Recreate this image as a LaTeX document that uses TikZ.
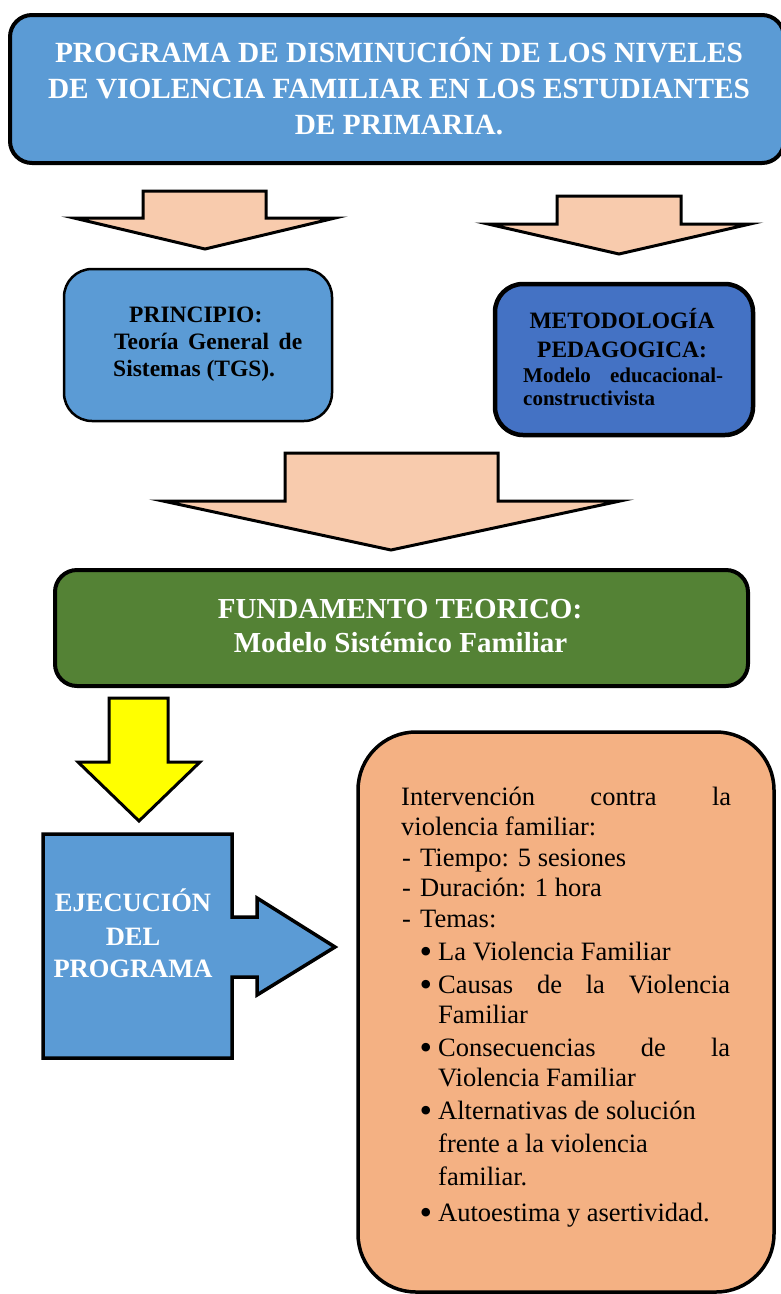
\documentclass[tikz,border=0pt]{standalone}
\usepackage{fontspec}
\setmainfont{Liberation Serif}
\definecolor{blueA}{HTML}{5B9BD5}
\definecolor{blueB}{HTML}{4472C4}
\definecolor{peach}{HTML}{F8CBAD}
\definecolor{greenF}{HTML}{548235}
\definecolor{orangeB}{HTML}{F4B183}
\definecolor{yellowA}{HTML}{FFFF00}
\newcommand\myfs[1]{\fontsize{#1}{#1}\selectfont}
\newcommand\dashit{\makebox[18pt][l]{-}}
\newcommand\bul{\makebox[17pt][l]{\hspace{-1.5pt}\raisebox{-3.5pt}[0pt][0pt]{\scalebox{1.35}{\textbullet}}}}
\begin{document}
\begin{tikzpicture}[x=1pt,y=-1pt,
  panel/.style={draw=black, inner sep=0},
  blockarrow/.style={draw=black, line width=3pt, fill=peach},
  ln/.style={inner sep=0, anchor=base west},
  lc/.style={inner sep=0, anchor=base},
  titlefont/.style={font=\myfs{29.3}\bfseries, text=white},
  boxfont/.style={font=\myfs{23.5}\bfseries, text=black},
  smallbold/.style={font=\myfs{21}\bfseries, text=black},
  fundfont/.style={font=\myfs{29}\bfseries, text=white},
  ejefont/.style={font=\myfs{26.5}\bfseries, text=white},
  bodyfont/.style={font=\myfs{26.5}, text=black}]
\useasboundingbox (0,0) rectangle (780,1294);

% ---- title
\node[panel, fill=blueA, line width=4pt, rounded corners=22pt,
      minimum width=774pt, minimum height=148pt] (title) at (397,89) {};
\node[lc, titlefont] (t1) at (399,62.3) {PROGRAMA DE DISMINUCIÓN DE LOS NIVELES};
\node[lc, titlefont] (t2) at (399,98.3) {DE VIOLENCIA FAMILIAR EN LOS ESTUDIANTES};
\node[lc, titlefont] (t3) at (399,134.6) {DE PRIMARIA.};

% ---- two small arrows
\draw[blockarrow] (143,191) -- (266,191) -- (266,218) -- (335,218) -- (205,249)
   -- (74,218) -- (143,218) -- cycle;
\draw[blockarrow] (557,196) -- (681,196) -- (681,224) -- (750,224) -- (619,254)
   -- (488,224) -- (557,224) -- cycle;

% ---- principio
\node[panel, fill=blueA, line width=2.5pt, rounded corners=28pt,
      minimum width=268pt, minimum height=152pt] (princ) at (198,345) {};
\node[ln, boxfont] (p1) at (129,322) {PRINCIPIO:};
\node[ln, boxfont] (p2) at (114,349) {\makebox[188pt][s]{Teoría General de}};
\node[ln, boxfont] (p3) at (113,376) {Sistemas (TGS).};

% ---- metodologia
\node[panel, fill=blueB, line width=4.5pt, rounded corners=28pt,
      minimum width=258pt, minimum height=151pt] (metod) at (624,359.5) {};
\node[lc, boxfont] (m1) at (622,328) {METODOLOGÍA};
\node[lc, boxfont] (m2) at (622,357) {PEDAGOGICA:};
\node[ln, smallbold] (m3) at (523,382) {\makebox[200pt][s]{Modelo educacional-}};
\node[ln, smallbold] (m4) at (523,405) {constructivista};

% ---- big arrow
\draw[blockarrow] (285,453) -- (498,453) -- (498,501) -- (620,501) -- (391,550)
   -- (163,501) -- (285,501) -- cycle;

% ---- fundamento
\node[panel, fill=greenF, line width=4pt, rounded corners=22pt,
      minimum width=693pt, minimum height=116pt] (fund) at (401.5,628) {};
\node[lc, fundfont] (f1) at (400,618) {FUNDAMENTO TEORICO:};
\node[lc, fundfont] (f2) at (400.5,652) {Modelo Sistémico Familiar};

% ---- yellow arrow
\draw[draw=black, line width=3pt, fill=yellowA] (109,698) -- (168,698) -- (168,762)
   -- (200,762) -- (139,821) -- (78,762) -- (109,762) -- cycle;

% ---- ejecucion with arrow
\draw[draw=black, line width=3.5pt, fill=blueA] (43,834) -- (232,834) -- (232,917)
   -- (257,917) -- (257,898) -- (335,947) -- (257,995) -- (257,977) -- (232,977)
   -- (232,1058) -- (43,1058) -- cycle;
\node[lc, ejefont] (e1) at (133,911) {EJECUCIÓN};
\node[lc, ejefont] (e2) at (133,945) {DEL};
\node[lc, ejefont] (e3) at (133,977) {PROGRAMA};

% ---- orange box
\node[panel, fill=orangeB, line width=3.5pt, rounded corners=58pt,
      minimum width=416pt, minimum height=560pt] (interv) at (566,1012) {};
\node[ln, bodyfont] (o1) at (401,805) {\makebox[330pt][s]{Intervención contra la}};
\node[ln, bodyfont] (o2) at (401,835) {violencia familiar:};
\node[ln, bodyfont] (o3) at (402,866.7) {\dashit Tiempo: 5 sesiones};
\node[ln, bodyfont] (o4) at (402,896.7) {\dashit Duración: 1 hora};
\node[ln, bodyfont] (o5) at (402,927) {\dashit Temas:};
\node[ln, bodyfont] (o6) at (421,960) {\bul La Violencia Familiar};
\node[ln, bodyfont] (o7) at (421,993) {\bul\makebox[292pt][s]{Causas de la Violencia}};
\node[ln, bodyfont] (o8) at (438,1023) {Familiar};
\node[ln, bodyfont] (o9) at (421,1056) {\bul\makebox[292pt][s]{Consecuencias de la}};
\node[ln, bodyfont] (o10) at (438,1086) {Violencia Familiar};
\node[ln, bodyfont] (o11) at (421,1119) {\bul Alternativas de solución};
\node[ln, bodyfont] (o12) at (438,1152) {frente a la violencia};
\node[ln, bodyfont] (o13) at (438,1185) {familiar.};
\node[ln, bodyfont] (o14) at (421,1221) {\bul Autoestima y asertividad.};
\end{tikzpicture}
\end{document}
